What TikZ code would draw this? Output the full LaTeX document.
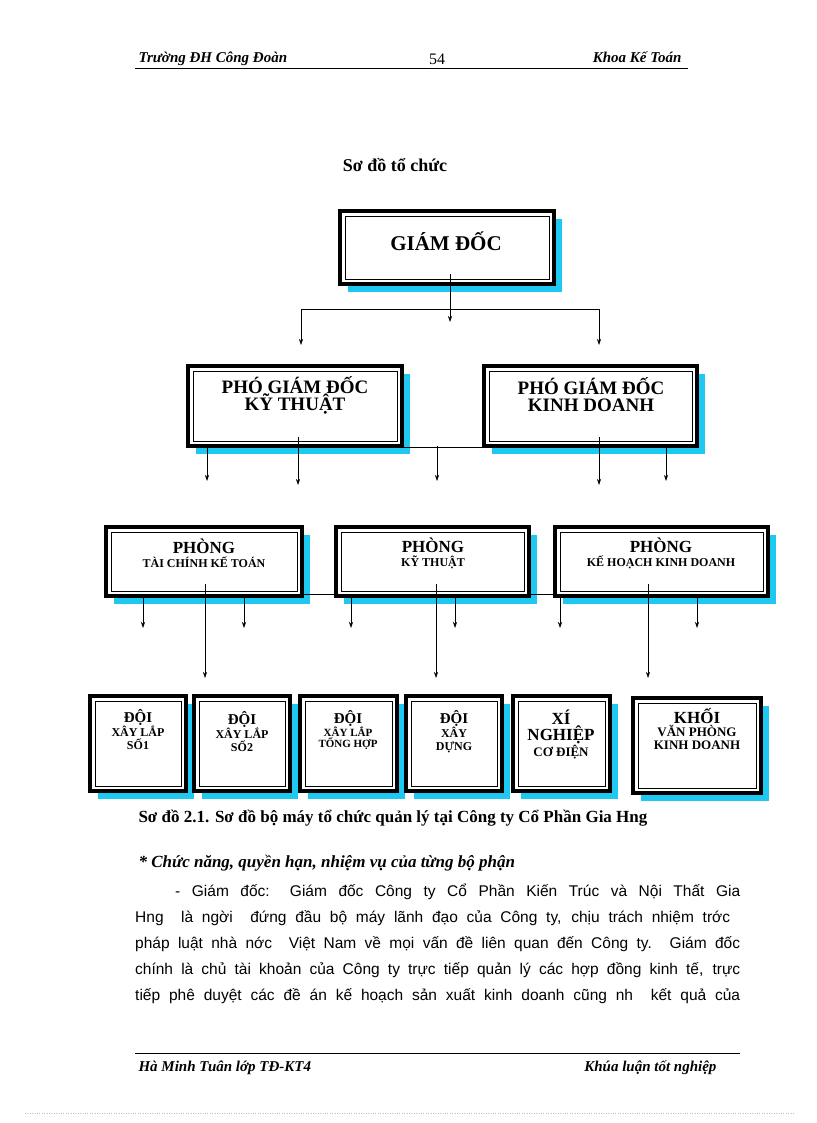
\documentclass[tikz,border=0pt]{standalone}
\usepackage{fontspec}
\setmainfont{Liberation Serif}
\newfontfamily\arialf{Liberation Sans}
\usetikzlibrary{shadows,arrows.meta}
\definecolor{shc}{HTML}{1EC8F0}
\tikzset{
 obox/.style={draw=black,line width=3.5pt,fill=white,inner sep=0pt,
  drop shadow={shadow xshift=8pt,shadow yshift=-8pt,fill=shc,opacity=1},
  path picture={\draw[line width=0.7pt]([xshift=5pt,yshift=-5pt]path picture bounding box.north west) rectangle ([xshift=-5pt,yshift=5pt]path picture bounding box.south east);}},
 btxt/.style={anchor=center,align=center,font=\bfseries,inner sep=0pt},
 conn/.style={line width=0.6pt},
 arr/.style={line width=0.6pt,-{Stealth[length=6pt,width=4pt]}},
}
\newcommand{\mkbox}[5]{\node[obox,minimum width=#4-#2,minimum height=#5-#3] (#1) at ({(#2+#4)/2},{(#3+#5)/2}) {};}
\begin{document}
\begin{tikzpicture}[x=1pt,y=-1pt]
\useasboundingbox (0,0) rectangle (816,1123);
% header
\node[anchor=base west,font=\bfseries\itshape\fontsize{15}{18}\selectfont] (h1) at (135,63) {Trường ĐH Công Đoàn};
\node[anchor=base,font=\fontsize{16}{18}\selectfont] (h2) at (437,65) {54};
\node[anchor=base east,font=\bfseries\itshape\fontsize{15}{18}\selectfont] (h3) at (685,63) {Khoa Kế Toán};
\draw[line width=0.6pt] (135,68) -- (688,68);
\node[font=\bfseries\fontsize{18}{22}\selectfont] (title) at (395,165) {Sơ đồ tổ chức};
% boxes
\mkbox{gd}{340}{211}{554}{284}
\node[btxt,font=\bfseries\fontsize{21}{24}\selectfont] (tgd) at (446,241) {GIÁM ĐỐC};
\mkbox{pkt}{188}{366}{402}{446}
\node[btxt,font=\bfseries\fontsize{19}{17}\selectfont] (tpkt) at (295,395) {PHÓ GIÁM ĐỐC\\KỸ THUẬT};
\mkbox{pkd}{484}{366}{697}{446}
\node[btxt,font=\bfseries\fontsize{19}{17}\selectfont] (tpkd) at (591,395) {PHÓ GIÁM ĐỐC\\KINH DOANH};
\mkbox{p1}{106}{527}{302}{596}
\node[btxt,font=\bfseries\fontsize{17}{14}\selectfont] (tp1) at (204,553) {PHÒNG\\{\fontsize{12}{13}\selectfont TÀI CHÍNH KẾ TOÁN}};
\mkbox{p2}{336}{527}{529}{596}
\node[btxt,font=\bfseries\fontsize{17}{14}\selectfont] (tp2) at (433,553) {PHÒNG\\{\fontsize{12}{13}\selectfont KỸ THUẬT}};
\mkbox{p3}{555}{527}{768}{596}
\node[btxt,font=\bfseries\fontsize{17}{14}\selectfont] (tp3) at (661,553) {PHÒNG\\{\fontsize{12}{13}\selectfont KẾ HOẠCH KINH DOANH}};
% bottom
\mkbox{d1}{90}{696}{186}{791}
\node[btxt,anchor=north,font=\bfseries\fontsize{15}{13}\selectfont] (td1) at (138,709) {ĐỘI\\{\fontsize{12}{12}\selectfont XÂY LẮP}\\{\fontsize{12}{12}\selectfont SỐ1}};
\mkbox{d2}{194}{696}{290}{791}
\node[btxt,anchor=north,font=\bfseries\fontsize{15}{13}\selectfont] (td2) at (242,711) {ĐỘI\\{\fontsize{12}{12}\selectfont XÂY LẮP}\\{\fontsize{12}{12}\selectfont SỐ2}};
\mkbox{d3}{300}{696}{397}{791}
\node[btxt,anchor=north,font=\bfseries\fontsize{15}{11}\selectfont] (td3) at (348,710) {ĐỘI\\{\fontsize{11}{11}\selectfont XÂY LẮP}\\{\fontsize{11}{11}\selectfont TỔNG HỢP}};
\mkbox{d4}{406}{696}{502}{791}
\node[btxt,anchor=north,font=\bfseries\fontsize{15}{13}\selectfont] (td4) at (454,710) {ĐỘI\\{\fontsize{12}{12}\selectfont XÂY}\\{\fontsize{12}{12}\selectfont DỰNG}};
\mkbox{d5}{513}{696}{610}{791}
\node[btxt,anchor=north,font=\bfseries\fontsize{17}{16}\selectfont] (td5) at (561,710) {XÍ\\NGHIỆP\\{\fontsize{13}{13}\selectfont CƠ ĐIỆN}};
\mkbox{d6}{633}{698}{761}{793}
\node[btxt,anchor=north,font=\bfseries\fontsize{17}{13}\selectfont] (td6) at (697,708) {KHỐI\\{\fontsize{13}{13}\selectfont VĂN PHÒNG}\\{\fontsize{13}{13}\selectfont KINH DOANH}};
% connectors level 1
\coordinate (cl) at (301,309);
\coordinate (cr) at (599,309);
\draw[arr] (450,274) -- (450,322);
\draw[conn] (cl) -- (cr);
\draw[arr] (cl) -- (301,345);
\draw[arr] (cr) -- (599,345);
% level 2
\draw[conn] (pkt.south east) -- (pkd.south west);
\draw[arr] (437,446) -- (437,481);
\draw[arr] (207,446) -- (207,481);
\draw[arr] (298,437) -- (298,485);
\draw[arr] (599,437) -- (599,485);
\draw[arr] (666,446) -- (666,481);
% level 3
\draw[conn] ([yshift=3pt]p1.south east) -- ([yshift=3pt]p2.south west);
\draw[conn] ([yshift=3pt]p2.south east) -- ([yshift=3pt]p3.south west);
\foreach \x in {143,244,351,455,560,697} \draw[arr] (\x,596) -- (\x,628);
\foreach \x in {205,436,648} \draw[arr] (\x,584) -- (\x,678);
% caption and text
\node[anchor=base west,font=\bfseries\fontsize{17}{20}\selectfont] (cap) at (135,822) {Sơ đồ 2.1. Sơ đồ bộ máy tổ chức quản lý tại Công ty Cổ Phần Gia Hng};
\node[anchor=base west,font=\bfseries\itshape\fontsize{17}{20}\selectfont] (sub) at (135,867) {* Chức năng, quyền hạn, nhiệm vụ của từng bộ phận};
\begin{scope}[every node/.style={anchor=base west,inner sep=0pt,font=\arialf\fontsize{15.5}{18}\selectfont}]
\node (l1) at (175,896) {\makebox[565pt][s]{- Giám đốc: Giám đốc Công ty Cổ Phần Kiến Trúc và Nội Thất Gia}};
\node (l2) at (135,922) {\makebox[595pt][s]{Hng \ là ngời \ đứng đầu bộ máy lãnh đạo của Công ty, chịu trách nhiệm trớc}};
\node (l3) at (135,948) {\makebox[605pt][s]{pháp luật nhà nớc \ Việt Nam về mọi vấn đề liên quan đến Công ty. Giám đốc}};
\node (l4) at (135,974) {\makebox[605pt][s]{chính là chủ tài khoản của Công ty trực tiếp quản lý các hợp đồng kinh tế, trực}};
\node (l5) at (135,1000) {\makebox[605pt][s]{tiếp phê duyệt các đề án kế hoạch sản xuất kinh doanh cũng nh \ kết quả của}};
\end{scope}
\draw[line width=1pt] (135,1053) -- (740,1053);
\node[anchor=base west,font=\bfseries\itshape\fontsize{15}{18}\selectfont] (f1) at (135,1071) {Hà Minh Tuân lớp TĐ-KT4};
\node[anchor=base east,font=\bfseries\itshape\fontsize{15}{18}\selectfont] (f2) at (720,1071) {Khúa luận tốt nghiệp};
\draw[gray!50,dotted] (25,1113) -- (795,1113);
\end{tikzpicture}
\end{document}
